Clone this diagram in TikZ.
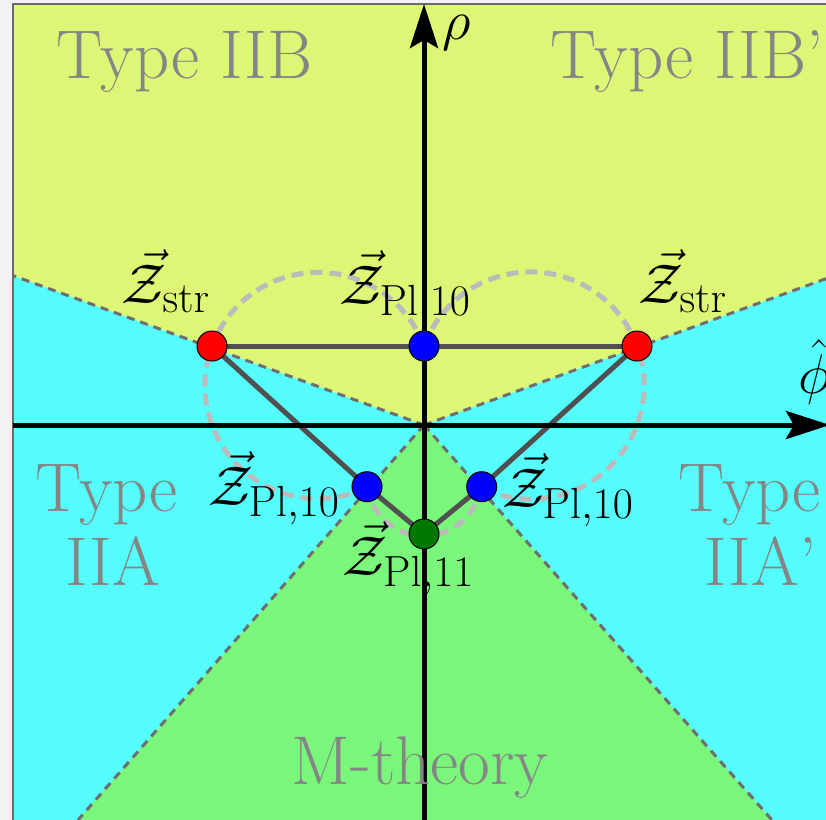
\RequirePackage{fix-cm}
\documentclass[tikz,border=0pt]{standalone}
\usetikzlibrary{arrows.meta}
\DeclareMathSizes{28}{28}{21.8}{16}
\definecolor{bgout}{HTML}{F2F2F2}
\definecolor{yel}{HTML}{DCF676}
\definecolor{cya}{HTML}{55FDFD}
\definecolor{grn}{HTML}{7AF77A}
\definecolor{bnd}{HTML}{6E6E6E}
\definecolor{circc}{HTML}{BBBBBB}
\definecolor{hullc}{HTML}{505050}
\definecolor{lblc}{HTML}{858585}
\definecolor{framec}{HTML}{6A6A6A}
\definecolor{dkgreen}{HTML}{007800}
\begin{document}
\begin{tikzpicture}[x=0.5pt,y=-0.5pt,
 bndline/.style={draw=bnd, line width=1.5pt, dash pattern=on 4pt off 3pt},
 circarc/.style={draw=circc, line width=2.5pt, dash pattern=on 6pt off 3.5pt},
 hullline/.style={draw=hullc, line width=2.5pt},
 axisline/.style={draw=black, line width=2.5pt, -{Stealth[length=22pt,width=14pt,inset=4pt]}},
 dotnode/.style={circle, draw=black, line width=0.5pt, minimum size=15pt, inner sep=0pt},
 typelbl/.style={text=lblc, font=\fontsize{34.5}{40}\selectfont, inner sep=0pt, anchor=base},
 zlbl/.style={font=\fontsize{28}{34}\selectfont, inner sep=0pt},
]
\useasboundingbox (0,0) rectangle (826,820);
\fill[bgout] (0,0) rectangle (826,820);
% key points
\coordinate (O) at (424,425);
\coordinate (bl) at (13,275.6);
\coordinate (br) at (826,278.7);
\coordinate (ll) at (78,820);
\coordinate (lr) at (772,820);
% regions
\fill[yel] (O) -- (bl) -- (13,4) -- (826,4) -- (br) -- cycle;
\fill[cya] (O) -- (bl) -- (13,820) -- (ll) -- cycle;
\fill[grn] (O) -- (ll) -- (lr) -- cycle;
\fill[cya] (O) -- (lr) -- (826,820) -- (br) -- cycle;
\draw[framec, line width=0.6pt] (13,820) -- (13,4) -- (826,4);
% region boundaries
\draw[bndline] (O) -- (bl);
\draw[bndline] (O) -- (br);
\draw[bndline] (O) -- (ll);
\draw[bndline] (O) -- (lr);
% circles
\draw[circarc] (318,385.5) ++(-20.4:113.1) arc[start angle=-20.4, end angle=-296, radius=113.1];
\draw[circarc] (530.5,385.5) ++(-159.65:113.6) arc[start angle=-159.65, end angle=115.7, radius=113.6];
\draw[circarc] (424,479) ++(172.3:57) arc[start angle=172.3, end angle=7.6, radius=57];
% tower points
\coordinate (pstrL) at (212,346);
\coordinate (pplT) at (424,346);
\coordinate (pstrR) at (637,346);
\coordinate (pplL) at (367,486.7);
\coordinate (pplR) at (481.7,486.7);
\coordinate (ppl11) at (424,534);
% hull
\draw[hullline] (pstrL) -- (pplT) -- (pstrR);
\draw[hullline] (pstrL) -- (pplL) -- (ppl11) -- (pplR) -- (pstrR);
% axes
\coordinate (ybot) at (424,822);
\coordinate (ytop) at (424,4);
\coordinate (xleft) at (13,425);
\coordinate (xright) at (830,425);
\draw[axisline] (ybot) -- (ytop);
\draw[axisline] (xleft) -- (xright);
% dots
\node[dotnode, fill=red] (zstrL) at (pstrL) {};
\node[dotnode, fill=blue] (zplT) at (pplT) {};
\node[dotnode, fill=red] (zstrR) at (pstrR) {};
\node[dotnode, fill=blue] (zplL) at (pplL) {};
\node[dotnode, fill=blue] (zplR) at (pplR) {};
\node[dotnode, fill=dkgreen] (zpl11) at (ppl11) {};
% axis labels
\node[zlbl] (rholbl) at (457,33) {$\rho$};
\node[zlbl] (philbl) at (815,372) {$\hat{\phi}$};
% point labels
\node[zlbl] (lstrL) at (166,281) {$\vec{\mathcal{Z}}_{\mathrm{str}}$};
\node[zlbl] (lstrR) at (683,281) {$\vec{\mathcal{Z}}_{\mathrm{str}}$};
\node[zlbl] (lplT) at (405,287) {$\vec{\mathcal{Z}}_{\mathrm{Pl},10}$};
\node[zlbl] (lplL) at (274,488) {$\vec{\mathcal{Z}}_{\mathrm{Pl},10}$};
\node[zlbl] (lplR) at (568,490) {$\vec{\mathcal{Z}}_{\mathrm{Pl},10}$};
\node[zlbl] (lpl11) at (408.5,558) {$\vec{\mathcal{Z}}_{\mathrm{Pl},11}$};
% region labels
\node[typelbl] (tIIB) at (184.5,78) {Type IIB};
\node[typelbl] (tIIBp) at (687,78) {Type IIB'};
\node[typelbl] (tIIAa) at (106.5,511) {Type};
\node[typelbl] (tIIAb) at (112.5,585) {IIA};
\node[typelbl] (tIIApa) at (749.5,511) {Type};
\node[typelbl] (tIIApb) at (760.5,585) {IIA'};
\node[typelbl] (tM) at (420,784) {M-theory};
\end{tikzpicture}
\end{document}
